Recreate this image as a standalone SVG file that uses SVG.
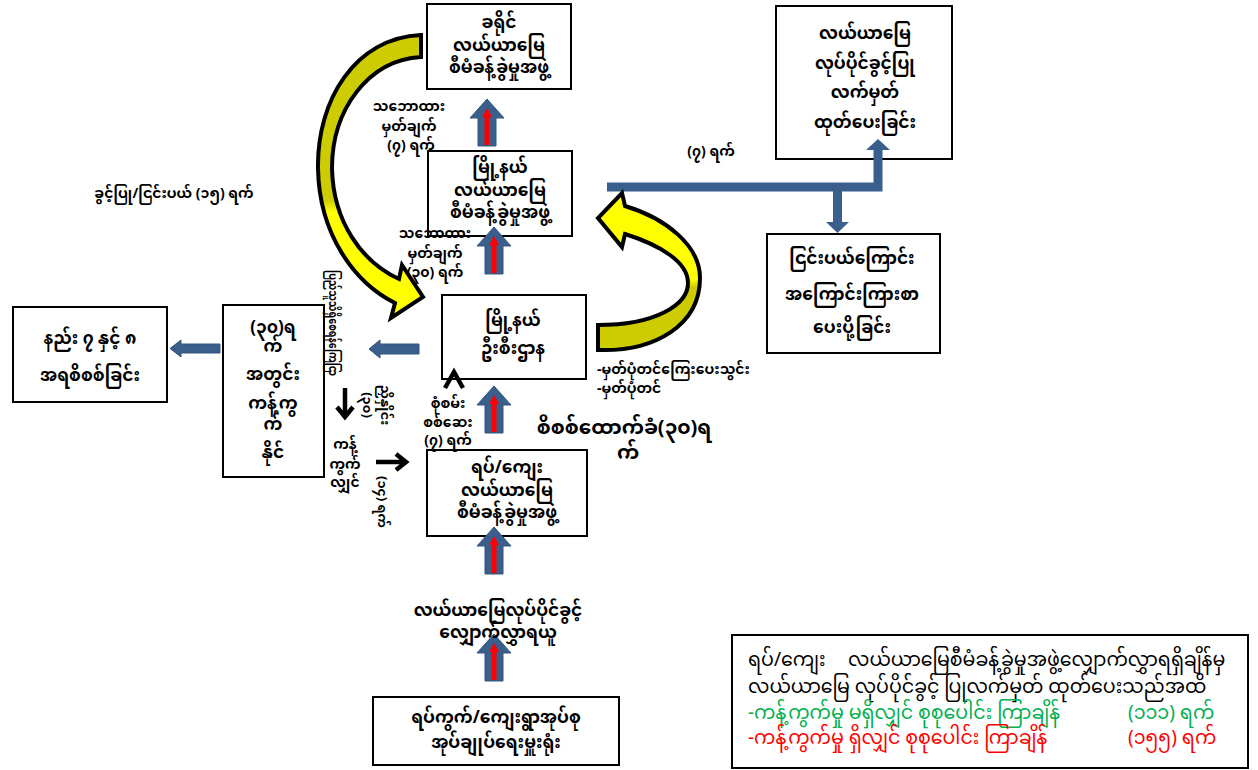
<svg xmlns="http://www.w3.org/2000/svg" width="1258" height="770" viewBox="0 0 1258 770">
<defs>
<style>
.box{fill:#fff;stroke:#000;stroke-width:2}
.t{font-family:"Noto Sans Myanmar","Padauk","Myanmar Text","Noto Sans",sans-serif;font-weight:bold;font-size:17px;text-anchor:middle;fill:#000}
.s{font-size:13px}
.m{font-size:14px}
.lg{font-family:"Noto Sans Myanmar","Padauk","Myanmar Text","Noto Sans",sans-serif;font-size:19px;fill:#000}
.blue{fill:#3A5F8C;stroke:#34557e;stroke-width:1}
.blk{fill:none;stroke:#000;stroke-width:4.5;stroke-linecap:butt;stroke-linejoin:miter}
.yel{stroke:#000;stroke-width:4;stroke-linejoin:miter}
</style>
<g id="up">
<path class="blue" d="M0,0 L17,19 L9,19 L9,47 L-9,47 L-9,19 L-17,19 Z"/>
<path fill="#FF0000" d="M0,9 L5,18 L2.5,18 L2.5,46 L-2.5,46 L-2.5,18 L-5,18 Z"/>
</g>
<linearGradient id="gl" x1="0" y1="35" x2="0" y2="320" gradientUnits="userSpaceOnUse">
<stop offset="0" stop-color="#CCCC00"/><stop offset="0.58" stop-color="#CCCC00"/><stop offset="0.62" stop-color="#FFFF00"/><stop offset="1" stop-color="#FFFF00"/>
</linearGradient>
<linearGradient id="gr" x1="0" y1="190" x2="0" y2="352" gradientUnits="userSpaceOnUse">
<stop offset="0" stop-color="#FFFF00"/><stop offset="0.55" stop-color="#FFFF00"/><stop offset="0.6" stop-color="#CCCC00"/><stop offset="1" stop-color="#CCCC00"/>
</linearGradient>
</defs>
<rect width="1258" height="770" fill="#fff"/>

<g id="district">
<rect class="box" x="427" y="4" width="144" height="85"/>
<text class="t"><tspan x="499" y="28">ခရိုင်</tspan><tspan x="499" y="51">လယ်ယာမြေ</tspan><tspan x="499" y="73">စီမံခန့်ခွဲမှုအဖွဲ့</tspan></text>
</g>
<g id="luc">
<rect class="box" x="776" y="6" width="176" height="153"/>
<text class="t"><tspan x="865" y="39">လယ်ယာမြေ</tspan><tspan x="865" y="69">လုပ်ပိုင်ခွင့်ပြု</tspan><tspan x="865" y="98">လက်မှတ်</tspan><tspan x="865" y="128">ထုတ်ပေးခြင်း</tspan></text>
</g>
<g id="township-fmb">
<rect class="box" x="428" y="151" width="144" height="85"/>
<text class="t"><tspan x="500" y="173">မြို့နယ်</tspan><tspan x="500" y="196">လယ်ယာမြေ</tspan><tspan x="500" y="218">စီမံခန့်ခွဲမှုအဖွဲ့</tspan></text>
</g>
<g id="reject">
<rect class="box" x="767" y="234" width="173" height="119"/>
<text class="t"><tspan x="852" y="264">ငြင်းပယ်ကြောင်း</tspan><tspan x="852" y="300">အကြောင်းကြားစာ</tspan><tspan x="852" y="333">ပေးပို့ခြင်း</tspan></text>
</g>
<g id="township-dept">
<rect class="box" x="442" y="295" width="144" height="84"/>
<text class="t"><tspan x="513" y="326">မြို့နယ်</tspan><tspan x="513" y="354">ဦးစီးဌာန</tspan></text>
</g>
<g id="objection">
<rect class="box" x="223" y="305" width="101" height="172"/>
<text class="t"><tspan x="273" y="333">(၃၀)ရ</tspan><tspan x="273" y="352">က်</tspan><tspan x="273" y="380">အတွင်း</tspan><tspan x="273" y="409">ကန့်ကွ</tspan><tspan x="273" y="430">က်</tspan><tspan x="273" y="458">နိုင်</tspan></text>
</g>
<g id="rules">
<rect class="box" x="13" y="307" width="154" height="95"/>
<text class="t"><tspan x="90" y="344">နည်း ၇ နှင့် ၈</tspan><tspan x="90" y="381">အရစိစစ်ခြင်း</tspan></text>
</g>
<g id="village">
<rect class="box" x="427" y="450" width="160" height="86"/>
<text class="t"><tspan x="507" y="473">ရပ်/ကျေး</tspan><tspan x="507" y="496">လယ်ယာမြေ</tspan><tspan x="507" y="518">စီမံခန့်ခွဲမှုအဖွဲ့</tspan></text>
</g>
<g id="office">
<rect class="box" x="373" y="697" width="246" height="68"/>
<text class="t"><tspan x="496" y="723">ရပ်ကွက်/ကျေးရွာအုပ်စု</tspan><tspan x="496" y="748">အုပ်ချုပ်ရေးမှူးရုံး</tspan></text>
</g>
<g id="legend">
<rect class="box" x="732" y="635" width="516" height="133"/>
<text class="lg"><tspan x="748" y="666">ရပ်/ကျေး</tspan><tspan x="848" y="666">လယ်ယာမြေစီမံခန့်ခွဲမှုအဖွဲ့လျှောက်လွှာရရှိချိန်မှ</tspan></text>
<text class="lg" x="748" y="693">လယ်ယာမြေ လုပ်ပိုင်ခွင့် ပြုလက်မှတ် ထုတ်ပေးသည်အထိ</text>
<text class="lg" style="fill:#00B050"><tspan x="748" y="719">-ကန့်ကွက်မှု မရှိလျှင် စုစုပေါင်း ကြာချိန်</tspan><tspan x="1128" y="719">(၁၁၁) ရက်</tspan></text>
<text class="lg" style="fill:#FF0000"><tspan x="748" y="744">-ကန့်ကွက်မှု ရှိလျှင် စုစုပေါင်း ကြာချိန်</tspan><tspan x="1128" y="744">(၁၅၅) ရက်</tspan></text>
</g>

<g id="connectors">
<use href="#up" x="487" y="99"/>
<use href="#up" x="494" y="227"/>
<use href="#up" x="494" y="386"/>
<use href="#up" x="494" y="527"/>
<use href="#up" x="494" y="634"/>
<path class="blue" d="M419,344 L380,344 L380,340 L369,349 L380,358 L380,354 L419,354 Z"/>
<path class="blue" d="M220,344 L181,344 L181,340 L170,348.5 L181,357 L181,353 L220,353 Z"/>
<path fill="none" stroke="#3A5F8C" stroke-width="9" d="M607,187 L878,187 L878,149"/>
<path fill="#3A5F8C" d="M866,150 L878,139 L890,150 Z"/>
<path fill="none" stroke="#3A5F8C" stroke-width="9" d="M837.5,187 L837.5,223"/>
<path fill="#3A5F8C" d="M826,222 L837.5,233 L849,222 Z"/>
<path class="yel" fill="url(#gl)" d="M421,35 C355,38 317,100 318,168 C319,235 355,283 395,303 L391,318 L423,297 L402,265 L399,279 C362,262 333,222 332,168 C332,110 368,60 421,57 Z"/>
<path class="yel" fill="url(#gr)" d="M598,350 C655,352 700,325 700,278 C700,245 665,218 625,206 L622,193 L598,218 L622,247 L625,234 C660,245 688,262 688,283 C688,305 655,325 598,325 Z"/>
<path class="blk" d="M345,388 L345,416 M337,407 L345,417 L353,407"/>
<path class="blk" d="M376,462 L405,462 M396,454 L406,462 L396,470"/>
<path class="blk" d="M445,388 L454,372 L463,388"/>
</g>

<g id="labels">
<text class="t m"><tspan x="409" y="111">သဘောထား</tspan><tspan x="409" y="131">မှတ်ချက်</tspan><tspan x="411" y="150">(၇) ရက်</tspan></text>
<text class="t m"><tspan x="435" y="238">သဘောထား</tspan><tspan x="435" y="258">မှတ်ချက်</tspan><tspan x="435" y="277">(၃၀) ရက်</tspan></text>
<text class="t m" x="174" y="198">ခွင့်ပြု/ငြင်းပယ် (၁၅) ရက်</text>
<text class="t m" x="711" y="156">(၇) ရက်</text>
<text class="t m" style="text-anchor:start"><tspan x="597" y="374">-မှတ်ပုံတင်ကြေးပေးသွင်း</tspan><tspan x="597" y="393">-မှတ်ပုံတင်</tspan></text>
<text class="t m"><tspan x="448" y="408">စုံစမ်း</tspan><tspan x="448" y="427">စစ်ဆေး</tspan><tspan x="448" y="445">(၇) ရက်</tspan></text>
<text class="t" style="font-size:20px"><tspan x="624" y="434">စိစစ်ထောက်ခံ(၃၀)ရ</tspan><tspan x="628" y="459">က်</tspan></text>
<text class="t m"><tspan x="345" y="449">ကန့်</tspan><tspan x="345" y="469">ကွက်</tspan><tspan x="345" y="487">လျှင်</tspan></text>
<text class="t s" transform="translate(334,323) rotate(90)" x="0" y="5" textLength="106" lengthAdjust="spacingAndGlyphs">ပြည်သူသိရှိစေရန်ကြေငြာ</text>
<text class="t s" transform="translate(386,405) rotate(90)"><tspan x="0" y="5">ညှိနှိုင်း</tspan><tspan x="0" y="23">(၃၀)</tspan></text>
<text class="t s" transform="translate(383,502) rotate(90)" x="0" y="5">(၁၄) ရက်</text>
<text class="t" x="498" y="616">လယ်ယာမြေလုပ်ပိုင်ခွင့်</text>
<text class="t" x="498" y="638">လျှောက်လွှာရယူ</text>
</g>
</svg>
